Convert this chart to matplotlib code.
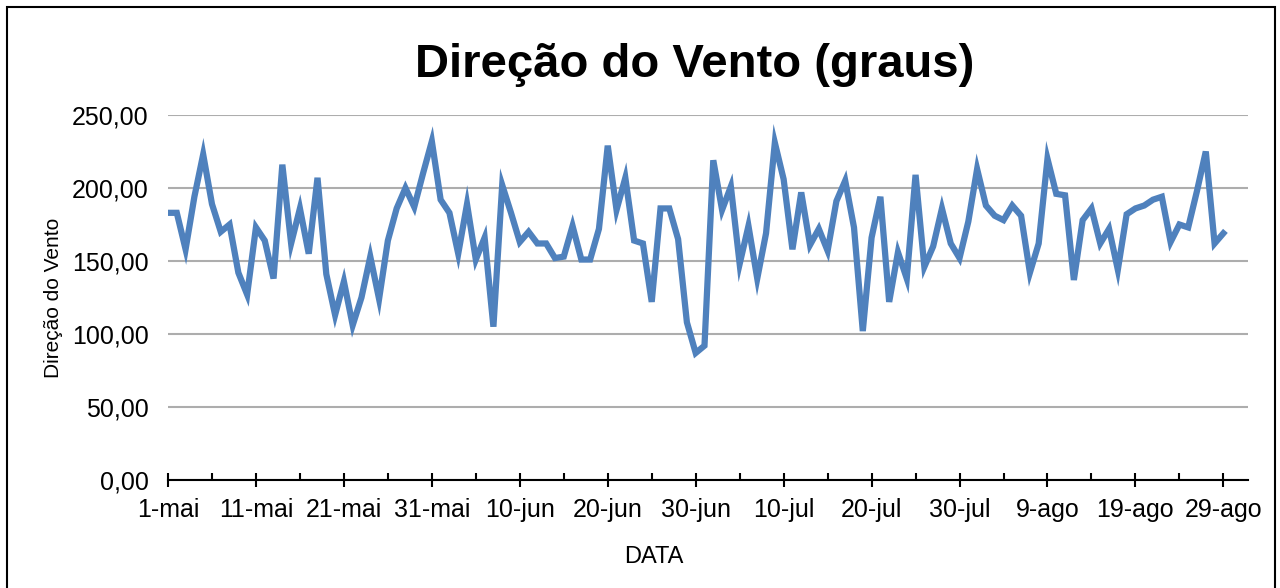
import matplotlib
matplotlib.use('Agg')
import matplotlib.pyplot as plt
from matplotlib.patches import Rectangle

plt.rcParams['font.family'] = ['Liberation Sans', 'DejaVu Sans']

# daily wind direction, 1-mai .. 29-ago
direcao = [183, 183, 158, 194, 223, 189, 170, 175, 142, 127,
           173, 164, 138, 216, 162, 186, 155, 207, 141, 113,
           136, 106, 125, 153, 124, 164, 186, 200, 187, 210,
           232, 192, 183, 155, 189, 151, 166, 105, 202, 183,
           163, 170, 162, 162, 152, 153, 174, 151, 151, 172,
           229, 185, 207, 164, 162, 122, 186, 186, 165, 108,
           87, 92, 219, 185, 201, 148, 174, 138, 169, 231,
           206, 158, 197, 161, 172, 157, 191, 205, 173, 102,
           166, 194, 122, 156, 138, 209, 146, 160, 186, 162,
           152, 177, 213, 188, 181, 178, 188, 181, 142, 162,
           220, 196, 195, 137, 178, 186, 162, 172, 144, 182,
           186, 188, 192, 194, 163, 175, 173, 198, 225, 162,
           169]
dias = list(range(len(direcao)))

tick_dias = list(range(0, 121, 10))
tick_labels = ['1-mai', '11-mai', '21-mai', '31-mai', '10-jun', '20-jun', '30-jun',
               '10-jul', '20-jul', '30-jul', '9-ago', '19-ago', '29-ago']
y_ticks = [0, 50, 100, 150, 200, 250]

fig = plt.figure(figsize=(12.8, 5.88), dpi=100)
ax = fig.add_axes([168 / 1280, 1 - 480 / 588, 1080 / 1280, 365 / 588])

ax.plot(dias, direcao, color='#4f81bd', linewidth=4.5, solid_joinstyle='miter', zorder=3)

ax.set_xlim(0, 122.8)
ax.set_ylim(0, 250)
ax.set_yticks(y_ticks)
ax.set_yticklabels(['{:.2f}'.format(v).replace('.', ',') for v in y_ticks])
ax.set_xticks(tick_dias)
ax.set_xticklabels(tick_labels)
ax.set_xticks(list(range(5, 123, 10)), minor=True)

ax.grid(axis='y', color='#adadad', linewidth=1.5, zorder=1)
for s in ['top', 'right', 'left']:
    ax.spines[s].set_visible(False)
ax.spines['bottom'].set_linewidth(1.5)
ax.spines['bottom'].set_zorder(4)

ax.tick_params(axis='y', length=0, pad=14, labelsize=18)
ax.tick_params(axis='x', which='major', direction='inout', length=10, width=1.5, pad=8, labelsize=18)
ax.tick_params(axis='x', which='minor', direction='in', length=5, width=1.5)

ax.set_xlabel('DATA', fontsize=17)
ax.xaxis.set_label_coords((654 - 168) / 1080, -(546 - 480) / 365)
ax.set_ylabel('Direção do Vento', fontsize=15)
ax.yaxis.set_label_coords(-(168 - 63) / 1080, 0.5)

fig.text(695 / 1280, 1 - 65 / 588, 'Direção do Vento (graus)', ha='center', va='center',
         fontsize=34, fontweight='bold')

fig.patches.append(Rectangle((7 / 1280, -0.05), 1268 / 1280, 1.05 - 7 / 588,
                             transform=fig.transFigure, fill=False,
                             edgecolor='black', linewidth=1.5))

fig.savefig('out.png', dpi=100)
